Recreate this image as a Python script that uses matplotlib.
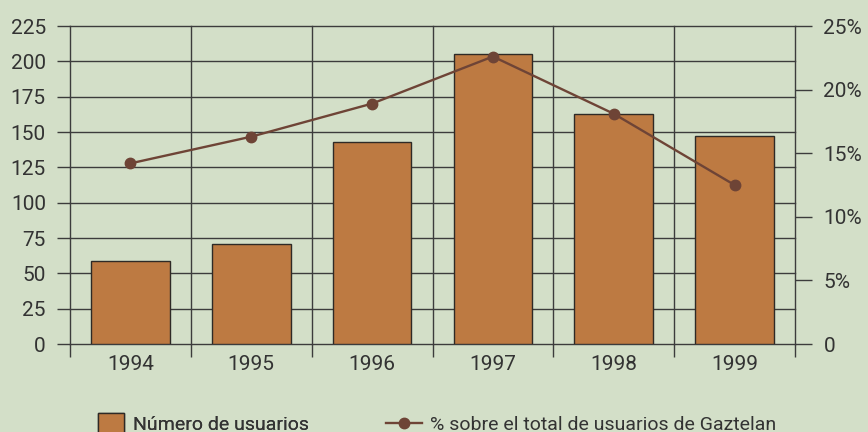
import numpy as np
import matplotlib
matplotlib.use("Agg")
from matplotlib import pyplot as plt
from matplotlib.patches import Patch
from matplotlib.lines import Line2D

# data
years = ['1994', '1995', '1996', '1997', '1998', '1999']
usuarios = [59, 71, 143, 205, 163, 147]
porcentaje = [14.2, 16.3, 18.9, 22.6, 18.1, 12.5]
left_ticks = [0, 25, 50, 75, 100, 125, 150, 175, 200, 225]
right_ticks = [0, 5, 10, 15, 20, 25]
right_labels = ['0', '5%', '10%', '15%', '20%', '25%']

bg = '#d3dfc8'
bar_color = '#bd7a42'
line_color = '#6e4436'
grid_color = '#3c3c3c'
text_color = '#333333'
fs = 15

plt.rcParams['font.family'] = ['Roboto', 'DejaVu Sans']
plt.rcParams['font.size'] = fs

fig = plt.figure(figsize=(8.68, 4.32), dpi=100, facecolor=bg)
ax = fig.add_axes([70 / 868, 1 - 344 / 432, 725 / 868, 318 / 432])
ax.set_facecolor(bg)

x = np.arange(len(years))
ax.bar(x, usuarios, width=0.65, color=bar_color, edgecolor='#2e2a26', linewidth=1, zorder=3)

ax.set_xlim(-0.5, len(years) - 0.5)
ax.set_ylim(0, 225)

# horizontal gridlines
for v in left_ticks:
    ax.axhline(v, color=grid_color, linewidth=1, zorder=1, clip_on=False)
# vertical lines at the category boundaries
for b in np.arange(-0.5, len(years), 1.0):
    ax.axvline(b, color=grid_color, linewidth=1, zorder=1, clip_on=False)

for s in ax.spines.values():
    s.set_visible(False)

ax.set_yticks(left_ticks)
ax.tick_params(axis='y', direction='out', length=9.4, width=1, color=grid_color,
               pad=8, labelcolor=text_color, labelsize=fs)

ax.set_xticks(np.arange(-0.5, len(years), 1.0))
ax.set_xticklabels([''] * (len(years) + 1))
ax.tick_params(axis='x', which='major', direction='out', length=9.4, width=1, color=grid_color)
ax.set_xticks(x, minor=True)
ax.set_xticklabels(years, minor=True)
ax.tick_params(axis='x', which='minor', length=0, pad=8, labelcolor=text_color, labelsize=fs)

ax2 = ax.twinx()
ax2.set_ylim(0, 25)
for s in ax2.spines.values():
    s.set_visible(False)
ax2.plot(x, porcentaje, color=line_color, linewidth=1.7, marker='o', markersize=7.5, zorder=5)
ax2.set_yticks(right_ticks)
ax2.set_yticklabels(right_labels)
ax2.tick_params(axis='y', direction='out', length=12.5, width=1, color=grid_color,
                pad=8, labelcolor=text_color, labelsize=fs)

# legend, two separate entries along the bottom
lfs = 14
h1 = Patch(facecolor=bar_color, edgecolor='#2e2a26', linewidth=1)
leg1 = fig.legend([h1], ['Número de usuarios'], loc='lower left',
                  bbox_to_anchor=(98 / 868, -0.004), frameon=False, fontsize=lfs,
                  handlelength=1.35, handleheight=1.15, handletextpad=0.45,
                  borderpad=0, borderaxespad=0, labelcolor=text_color)
h2 = Line2D([0], [0], color=line_color, linewidth=1.7, marker='o', markersize=7.5)
fig.legend([h2], ['% sobre el total de usuarios de Gaztelan'], loc='lower left',
           bbox_to_anchor=(386 / 868, -0.004), frameon=False, fontsize=lfs,
           handlelength=1.85, handletextpad=0.4,
           borderpad=0, borderaxespad=0, labelcolor=text_color)
fig.add_artist(leg1)

fig.savefig('out.png', dpi=100, facecolor=bg)
